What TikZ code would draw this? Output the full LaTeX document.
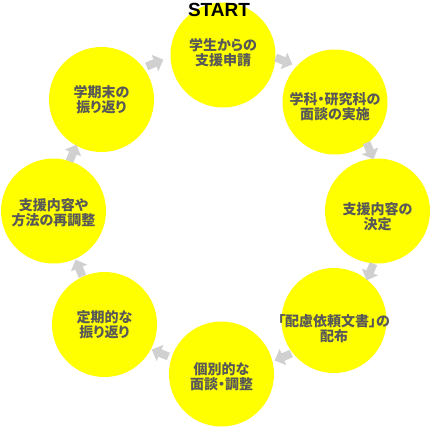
\documentclass[tikz,border=0pt]{standalone}
\usepackage{fontspec}
\setmainfont{Liberation Sans}
\newfontfamily\jpfont[RawFeature=+palt]{Noto Sans CJK JP}
\usetikzlibrary{arrows.meta}
\definecolor{stepyellow}{HTML}{FFFF00}
\definecolor{labelgray}{HTML}{585858}
\definecolor{arrowgray}{HTML}{D0D0D0}
\tikzset{
  stepcircle/.style={circle, fill=stepyellow, minimum size=105pt, inner sep=0pt},
  steptext/.style={text=labelgray, align=center, inner sep=0pt,
    font={\jpfont\bfseries\fontsize{14}{15}\selectfont}},
  flow/.style={draw=arrowgray, line width=8pt,
    -{Triangle[length=9pt,width=17pt]}},
}
\begin{document}
\begin{tikzpicture}[x=1pt,y=-1pt]
\useasboundingbox (0,0) rectangle (430,426);
% circles
\node[stepcircle] (T)  at (223,55)      {};
\node[stepcircle] (TR) at (335,102)     {};
\node[stepcircle] (R)  at (377.5,211)   {};
\node[stepcircle] (BR) at (334,320.5)   {};
\node[stepcircle] (B)  at (221.5,374)   {};
\node[stepcircle] (BL) at (104.5,324.5) {};
\node[stepcircle] (L)  at (53.5,211)    {};
\node[stepcircle] (TL) at (101.5,99.5)  {};
% texts
\node[steptext] (Tt)  at ([yshift=2.5pt]T.center)   {学生からの\\支援申請};
\node[steptext] (TRt) at ([yshift=-5pt]TR.center)   {学科・研究科の\\面談の実施};
\node[steptext] (Rt)  at ([yshift=-5.5pt]R.center)  {支援内容の\\決定};
\node[steptext] (BRt) at ([yshift=-8.5pt]BR.center) {「配慮依頼文書」の\\配布};
\node[steptext] (Bt)  at ([yshift=-2.5pt]B.center)  {個別的な\\面談・調整};
\node[steptext] (BLt) at (BL.center)                {定期的な\\振り返り};
\node[steptext] (Lt)  at ([yshift=-1.5pt]L.center)  {支援内容や\\方法の再調整};
\node[steptext] (TLt) at (TL.center)                {学期末の\\振り返り};
% START label
\node[font={\bfseries\fontsize{19}{19}\selectfont}, text=black, inner sep=0pt]
  (start) at (219,10) {START};
% arrows
\path (284,61)  ++(202.5:9) coordinate (a1s) ++(22.5:18)  coordinate (a1e);
\path (370,151) ++(247.5:9) coordinate (a2s) ++(67.5:18)  coordinate (a2e);
\path (370,272) ++(292.5:9) coordinate (a3s) ++(112.5:18) coordinate (a3e);
\path (283,357) ++(337.5:9) coordinate (a4s) ++(157.5:18) coordinate (a4e);
\path (160,353) ++(22.5:9)  coordinate (a5s) ++(202.5:18) coordinate (a5e);
\path (79,268)  ++(67.5:9)  coordinate (a6s) ++(247.5:18) coordinate (a6e);
\path (73,153)  ++(112.5:9) coordinate (a7s) ++(292.5:18) coordinate (a7e);
\path (155,63)  ++(157.5:9) coordinate (a8s) ++(337.5:18) coordinate (a8e);
\draw[flow] (a1s) -- (a1e);
\draw[flow] (a2s) -- (a2e);
\draw[flow] (a3s) -- (a3e);
\draw[flow] (a4s) -- (a4e);
\draw[flow] (a5s) -- (a5e);
\draw[flow] (a6s) -- (a6e);
\draw[flow] (a7s) -- (a7e);
\draw[flow] (a8s) -- (a8e);
\end{tikzpicture}
\end{document}
